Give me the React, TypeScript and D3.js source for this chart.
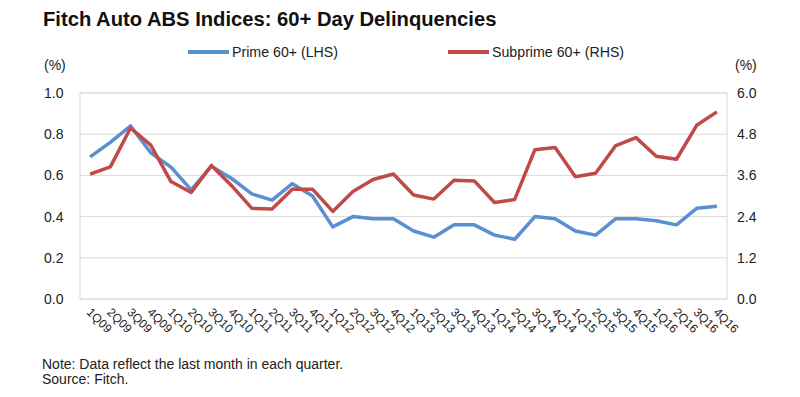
import { useEffect, useRef } from "react";
import * as d3 from "d3";

const quarters = [
  "1Q09", "2Q09", "3Q09", "4Q09", "1Q10", "2Q10", "3Q10", "4Q10",
  "1Q11", "2Q11", "3Q11", "4Q11", "1Q12", "2Q12", "3Q12", "4Q12",
  "1Q13", "2Q13", "3Q13", "4Q13", "1Q14", "2Q14", "3Q14", "4Q14",
  "1Q15", "2Q15", "3Q15", "4Q15", "1Q16", "2Q16", "3Q16", "4Q16",
];

const prime = [
  0.69, 0.76, 0.84, 0.71, 0.64, 0.53, 0.645, 0.585,
  0.51, 0.48, 0.56, 0.50, 0.35, 0.40, 0.39, 0.39,
  0.33, 0.30, 0.36, 0.36, 0.31, 0.29, 0.40, 0.39,
  0.33, 0.31, 0.39, 0.39, 0.38, 0.36, 0.44, 0.45,
];

const subprime = [
  3.64, 3.85, 4.98, 4.48, 3.42, 3.10, 3.89, 3.30,
  2.64, 2.62, 3.20, 3.20, 2.55, 3.13, 3.48, 3.64,
  3.03, 2.91, 3.46, 3.44, 2.81, 2.90, 4.35, 4.41,
  3.56, 3.66, 4.47, 4.70, 4.16, 4.07, 5.06, 5.45,
];

const leftTicks = [0, 0.2, 0.4, 0.6, 0.8, 1.0];
const rightTicks = [0, 1.2, 2.4, 3.6, 4.8, 6.0];

export default function App() {
  const ref = useRef<SVGSVGElement>(null);

  useEffect(() => {
    const svg = d3.select(ref.current);
    svg.selectAll("*").remove();
    const font = "Liberation Sans, Arial, sans-serif";
    const left = 80, right = 727, top = 93, bottom = 299;

    const x = d3.scaleBand().domain(quarters).range([left, right]);
    const yL = d3.scaleLinear().domain([0, 1]).range([bottom, top]);
    const yR = d3.scaleLinear().domain([0, 6]).range([bottom, top]);

    svg.append("text")
      .attr("x", 43).attr("y", 26)
      .attr("font-family", font).attr("font-size", 20.2).attr("font-weight", "bold")
      .attr("fill", "#111")
      .text("Fitch Auto ABS Indices: 60+ Day Delinquencies");

    // legend
    const legend = [
      { label: "Prime 60+ (LHS)", color: "#5b8fcf", x0: 188 },
      { label: "Subprime 60+ (RHS)", color: "#bf4a47", x0: 448 },
    ];
    legend.forEach((l) => {
      svg.append("line")
        .attr("x1", l.x0).attr("x2", l.x0 + 41).attr("y1", 52).attr("y2", 52)
        .attr("stroke", l.color).attr("stroke-width", 4);
      svg.append("text")
        .attr("x", l.x0 + 44).attr("y", 57)
        .attr("font-family", font).attr("font-size", 14.2).attr("fill", "#222")
        .text(l.label);
    });

    // gridlines
    svg.append("g").selectAll("line").data(leftTicks).join("line")
      .attr("x1", left).attr("x2", right)
      .attr("y1", (d) => yL(d)).attr("y2", (d) => yL(d))
      .attr("stroke", "#d9d9d9").attr("stroke-width", 1);
    svg.append("rect")
      .attr("x", left).attr("y", top).attr("width", right - left).attr("height", bottom - top)
      .attr("fill", "none").attr("stroke", "#d9d9d9");

    // axes labels
    const lAxis = svg.append("g").attr("font-family", font).attr("font-size", 14).attr("fill", "#222");
    lAxis.selectAll("text").data(leftTicks).join("text")
      .attr("x", 44).attr("y", (d) => yL(d) + 5)
      .text((d) => d3.format(".1f")(d));
    lAxis.append("text").attr("x", 44).attr("y", 70).text("(%)");

    const rAxis = svg.append("g").attr("font-family", font).attr("font-size", 14).attr("fill", "#222");
    rAxis.selectAll("text").data(rightTicks).join("text")
      .attr("x", 737).attr("y", (d) => yR(d) + 5)
      .text((d) => d3.format(".1f")(d));
    rAxis.append("text").attr("x", 735).attr("y", 70).text("(%)");

    // x labels
    svg.append("g").selectAll("text").data(quarters).join("text")
      .attr("transform", (d) => `translate(${(x(d) ?? 0) + x.bandwidth() / 2 - 4},${bottom + 14}) rotate(45)`)
      .attr("font-family", font).attr("font-size", 12).attr("fill", "#222")
      .text((d) => d);

    const cx = (i: number) => (x(quarters[i]) ?? 0) + x.bandwidth() / 2;
    const primeLine = d3.line<number>().x((_, i) => cx(i)).y((d) => yL(d));
    const subLine = d3.line<number>().x((_, i) => cx(i)).y((d) => yR(d));

    svg.append("path").datum(prime).attr("d", primeLine)
      .attr("fill", "none").attr("stroke", "#5b8fcf").attr("stroke-width", 3.5)
      .attr("stroke-linejoin", "round");
    svg.append("path").datum(subprime).attr("d", subLine)
      .attr("fill", "none").attr("stroke", "#bf4a47").attr("stroke-width", 3.5)
      .attr("stroke-linejoin", "round");

    const foot = svg.append("g").attr("font-family", font).attr("font-size", 14).attr("fill", "#222");
    foot.append("text").attr("x", 42).attr("y", 369).text("Note: Data reflect the last month in each quarter.");
    foot.append("text").attr("x", 42).attr("y", 384).text("Source: Fitch.");
  }, []);

  return (
    <svg ref={ref} width={800} height={397}
      style={{ position: "absolute", left: 0, top: 0, background: "#fff" }} />
  );
}
